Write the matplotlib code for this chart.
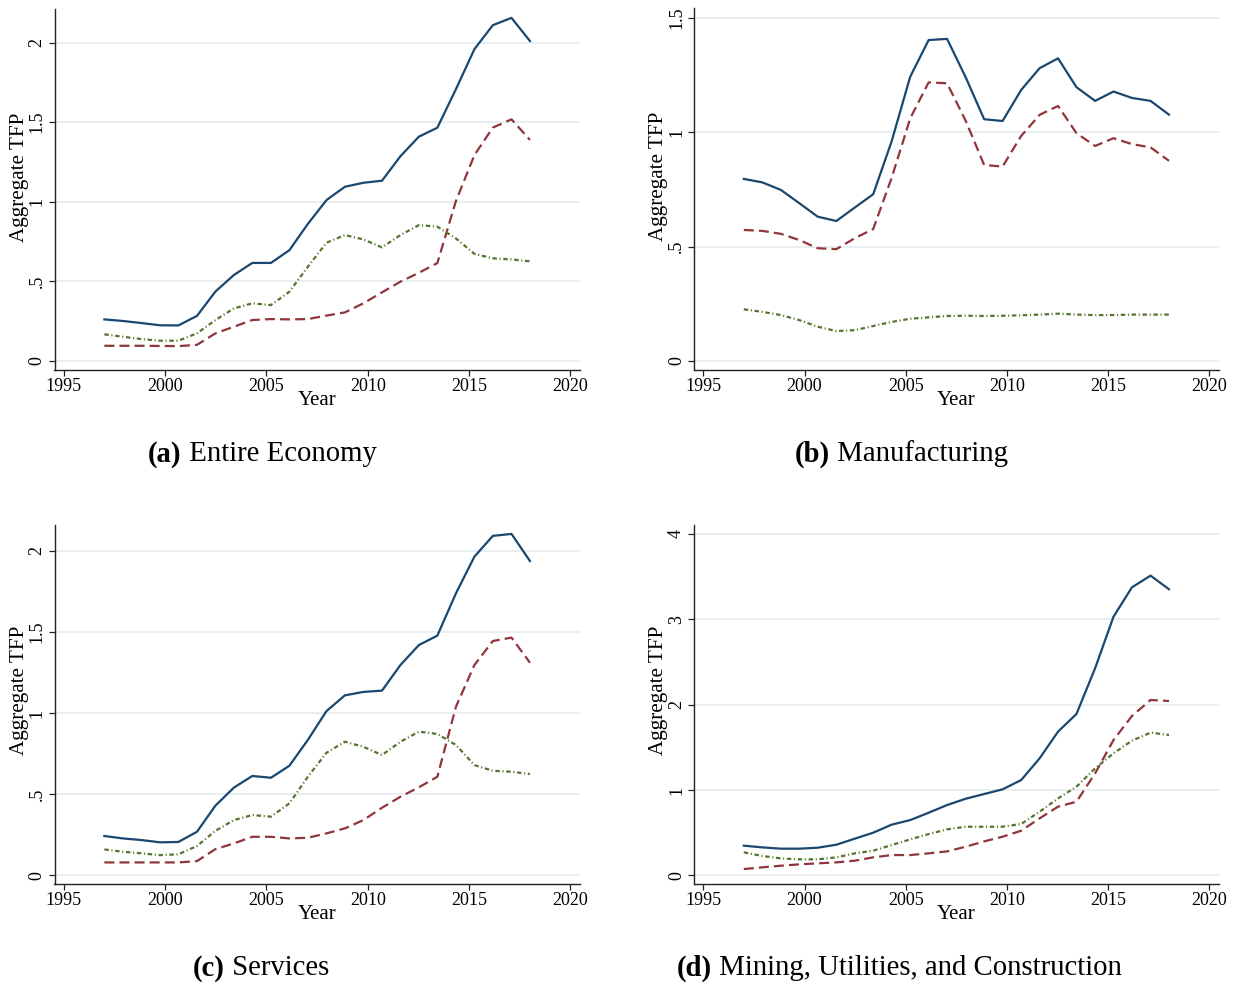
import matplotlib
matplotlib.use('Agg')
import matplotlib.pyplot as plt

# 各行业加总TFP趋势, 四个子图
plt.rcParams['font.family'] = 'serif'
plt.rcParams['font.serif'] = ['Liberation Serif', 'DejaVu Serif']

years = [1997.00, 1997.91, 1998.83, 1999.74, 2000.65, 2001.57, 2002.48, 2003.39,
         2004.30, 2005.22, 2006.13, 2007.04, 2007.96, 2008.87, 2009.78, 2010.70,
         2011.61, 2012.52, 2013.43, 2014.35, 2015.26, 2016.17, 2017.09, 2018.00]

# (a) Entire Economy
entire_navy = [0.260, 0.250, 0.237, 0.223, 0.222, 0.282, 0.435, 0.539, 0.615, 0.615, 0.695, 0.860,
               1.010, 1.094, 1.119, 1.132, 1.286, 1.409, 1.465, 1.708, 1.959, 2.110, 2.156, 2.010]
entire_maroon = [0.094, 0.094, 0.094, 0.093, 0.092, 0.100, 0.172, 0.214, 0.256, 0.262, 0.260, 0.262,
                 0.284, 0.304, 0.361, 0.430, 0.497, 0.553, 0.614, 1.005, 1.293, 1.466, 1.518, 1.388]
entire_green = [0.166, 0.151, 0.136, 0.126, 0.126, 0.172, 0.256, 0.329, 0.361, 0.350, 0.434, 0.591,
                0.742, 0.790, 0.763, 0.713, 0.790, 0.853, 0.843, 0.769, 0.672, 0.644, 0.637, 0.625]

# (b) Manufacturing
manu_navy = [0.796, 0.781, 0.748, 0.690, 0.631, 0.612, 0.671, 0.729, 0.960, 1.243, 1.403, 1.408,
             1.240, 1.057, 1.049, 1.185, 1.280, 1.323, 1.197, 1.137, 1.178, 1.150, 1.137, 1.077]
manu_maroon = [0.573, 0.569, 0.556, 0.529, 0.493, 0.489, 0.537, 0.577, 0.800, 1.061, 1.218, 1.214,
               1.050, 0.857, 0.850, 0.984, 1.076, 1.115, 0.996, 0.940, 0.974, 0.948, 0.934, 0.875]
manu_green = [0.226, 0.215, 0.201, 0.179, 0.150, 0.131, 0.135, 0.153, 0.171, 0.185, 0.191, 0.197,
              0.198, 0.197, 0.198, 0.200, 0.203, 0.207, 0.203, 0.201, 0.201, 0.203, 0.203, 0.203]

# (c) Services
serv_navy = [0.243, 0.228, 0.218, 0.204, 0.206, 0.269, 0.430, 0.541, 0.613, 0.602, 0.676, 0.835,
             1.013, 1.110, 1.131, 1.139, 1.297, 1.420, 1.478, 1.739, 1.965, 2.093, 2.105, 1.938]
serv_maroon = [0.080, 0.080, 0.080, 0.080, 0.080, 0.088, 0.162, 0.197, 0.238, 0.238, 0.228, 0.232,
               0.259, 0.290, 0.341, 0.417, 0.485, 0.543, 0.608, 1.040, 1.297, 1.445, 1.466, 1.311]
serv_green = [0.160, 0.146, 0.136, 0.125, 0.130, 0.181, 0.275, 0.341, 0.372, 0.362, 0.444, 0.608,
              0.756, 0.824, 0.793, 0.742, 0.824, 0.886, 0.872, 0.804, 0.680, 0.645, 0.639, 0.625]

# (d) Mining, Utilities, and Construction
mining_navy = [0.348, 0.328, 0.313, 0.313, 0.324, 0.359, 0.430, 0.500, 0.594, 0.648, 0.734, 0.824,
               0.898, 0.953, 1.008, 1.117, 1.371, 1.684, 1.891, 2.426, 3.031, 3.375, 3.512, 3.352]
mining_maroon = [0.074, 0.094, 0.113, 0.129, 0.141, 0.152, 0.172, 0.211, 0.238, 0.238, 0.258, 0.281,
                 0.336, 0.398, 0.453, 0.523, 0.668, 0.805, 0.863, 1.195, 1.586, 1.867, 2.055, 2.043]
mining_green = [0.270, 0.227, 0.199, 0.188, 0.188, 0.211, 0.258, 0.289, 0.355, 0.422, 0.484, 0.539,
                0.570, 0.570, 0.570, 0.602, 0.746, 0.902, 1.039, 1.254, 1.430, 1.578, 1.672, 1.645]

year_ticks = [1995, 2000, 2005, 2010, 2015, 2020]
tfp_ticks_low = [0, 0.5, 1, 1.5, 2]
tfp_labels_low = ['0', '.5', '1', '1.5', '2']
manu_ticks = [0, 0.5, 1, 1.5]
manu_labels = ['0', '.5', '1', '1.5']
mining_ticks = [0, 1, 2, 3, 4]
mining_labels = ['0', '1', '2', '3', '4']

NAVY = '#1a476f'
MAROON = '#90353b'
GREEN = '#55752f'
GRID = '#e7eef0'


def draw_panel(ax, navy, maroon, green, yticks, ylabels, ylim, ylabel_y):
    ax.plot(years, navy, color=NAVY, lw=1.6, linestyle='-')
    ax.plot(years, maroon, color=MAROON, lw=1.6, linestyle=(0, (4.5, 2.3)))
    ax.plot(years, green, color=GREEN, lw=1.6, linestyle=(0, (2.0, 1.2, 0.5, 1.2)))

    ax.set_xlim(1994.54, 2020.47)
    ax.set_ylim(*ylim)
    ax.set_xticks(year_ticks)
    ax.set_yticks(yticks)
    ax.set_yticklabels(ylabels, rotation=90, va='center')

    # 只保留左边和下边的轴线, 水平网格线
    ax.spines['top'].set_visible(False)
    ax.spines['right'].set_visible(False)
    for side in ['left', 'bottom']:
        ax.spines[side].set_linewidth(1.0)
        ax.spines[side].set_color('#222222')
    ax.yaxis.grid(True, color=GRID, lw=1.3)
    ax.set_axisbelow(True)
    ax.tick_params(axis='both', direction='out', length=4.5, width=0.9,
                   color='#222222', labelsize=13)
    ax.tick_params(axis='x', pad=1)
    ax.tick_params(axis='y', pad=2)

    ax.set_xlabel('Year', fontsize=15)
    ax.xaxis.set_label_coords(0.5, -0.058)
    ax.set_ylabel('Aggregate TFP', fontsize=15.2)
    ax.yaxis.set_label_coords(-0.049, ylabel_y)


def add_caption(fig, x_px, y_px, tag, text):
    renderer = fig.canvas.get_renderer()
    x = x_px / 1250
    y = 1 - y_px / 985
    t = fig.text(x, y, tag, fontsize=20.7, fontweight='bold', ha='left', va='center')
    bb = t.get_window_extent(renderer=renderer)
    fig.text(bb.x1 / fig.bbox.width, y, ' ' + text, fontsize=20.7, ha='left', va='center')


def main():
    fig = plt.figure(figsize=(12.5, 9.85), dpi=100)

    ax_a = fig.add_axes([0.0436, 0.6244, 0.4204, 0.3662])
    ax_b = fig.add_axes([0.5552, 0.6244, 0.4200, 0.3670])
    ax_c = fig.add_axes([0.0436, 0.1022, 0.4204, 0.3648])
    ax_d = fig.add_axes([0.5552, 0.1022, 0.4200, 0.3648])

    draw_panel(ax_a, entire_navy, entire_maroon, entire_green,
               tfp_ticks_low, tfp_labels_low, (-0.058, 2.21), 0.535)
    draw_panel(ax_b, manu_navy, manu_maroon, manu_green,
               manu_ticks, manu_labels, (-0.039, 1.541), 0.535)
    draw_panel(ax_c, serv_navy, serv_maroon, serv_green,
               tfp_ticks_low, tfp_labels_low, (-0.055, 2.16), 0.54)
    draw_panel(ax_d, mining_navy, mining_maroon, mining_green,
               mining_ticks, mining_labels, (-0.105, 4.105), 0.54)

    add_caption(fig, 148, 454, '(a)', 'Entire Economy')
    add_caption(fig, 795, 454, '(b)', 'Manufacturing')
    add_caption(fig, 193, 968, '(c)', 'Services')
    add_caption(fig, 677, 968, '(d)', 'Mining, Utilities, and Construction')

    fig.savefig('out.png', dpi=100)


if __name__ == '__main__':
    main()
